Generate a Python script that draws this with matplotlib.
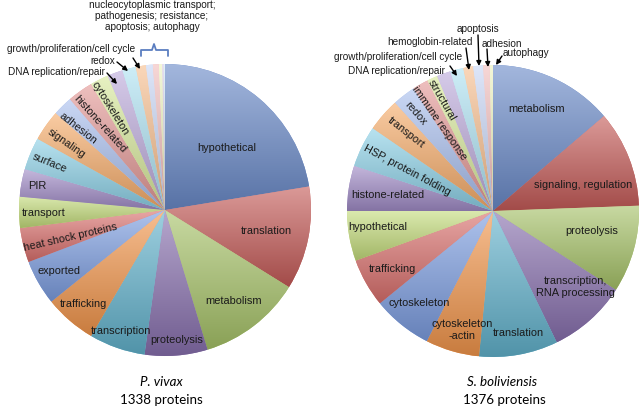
import numpy as np
import matplotlib.pyplot as plt
from matplotlib.colors import to_rgb
from matplotlib.path import Path
from matplotlib.patches import PathPatch

W, H = 644, 412

# P. vivax, 1338 proteins
vivax_labels = ['hypothetical', 'translation', 'metabolism', 'proteolysis', 'transcription',
                'trafficking', 'exported', 'heat shock proteins', 'transport', 'PIR',
                'surface', 'signaling', 'adhesion', 'histone-related', 'cytoskeleton',
                'DNA replication/repair', 'redox', 'growth/proliferation/cell cycle',
                'nucleocytoplasmic transport', 'pathogenesis', 'resistance',
                'apoptosis', 'autophagy']
vivax_counts = [300, 153, 153, 93, 83, 77, 67, 51, 46, 41, 48, 46, 29, 38, 27,
                23, 20, 15, 10, 9, 5, 3, 1]

# S. boliviensis, 1376 proteins
boli_labels = ['metabolism', 'signaling, regulation', 'proteolysis',
               'transcription,\nRNA processing', 'translation', 'cytoskeleton\n-actin',
               'cytoskeleton', 'trafficking', 'hypothetical', 'histone-related',
               'HSP, protein folding', 'transport', 'redox', 'immune response',
               'structural', 'DNA replication/repair', 'growth/proliferation/cell cycle',
               'hemoglobin-related', 'apoptosis', 'adhesion', 'autophagy']
boli_counts = [189, 147, 133, 120, 120, 82, 91, 74, 76, 69, 63, 51, 35, 24, 16,
               21, 20, 15, 15, 10, 5]

# Excel-like palette, cycling blue/red/green/purple/aqua/orange, getting lighter
palette = ['#6A8AC8', '#C45B58', '#A6C268', '#8870AE', '#62B2CC', '#F2964C',
           '#7C9DE0', '#D9706D', '#C3DB7B', '#A08BC6', '#8CD0E6', '#F6AC6A',
           '#A9BFEE', '#E39896', '#D8E99C', '#BCAADB', '#AEE2F2', '#F7BE8E',
           '#C8D6F5', '#F2BEBD', '#EDF3BF', '#D5CBEA', '#CDEEF7']

# text inside the slices: (x, y, rotation) in pixels
vivax_inside = {
    'hypothetical': (227, 148, 0), 'translation': (266, 231, 0),
    'metabolism': (234, 301, 0), 'proteolysis': (177, 340, 0),
    'transcription': (121, 331, 0), 'trafficking': (83, 304, 0),
    'exported': (59, 271, 0), 'heat shock proteins': (70, 237, 13),
    'transport': (44, 213, 0), 'PIR': (37, 186, 0), 'surface': (50, 163, -22),
    'signaling': (66, 143, -35), 'adhesion': (78, 128, -38),
    'histone-related': (100, 124, -48), 'cytoskeleton': (110, 108, -58),
}
boli_inside = {
    'metabolism': (537, 109, 0), 'signaling, regulation': (583, 185, 0),
    'proteolysis': (592, 231, 0), 'transcription,\nRNA processing': (575, 287, 0),
    'translation': (518, 333, 0), 'cytoskeleton\n-actin': (462, 330, 0),
    'cytoskeleton': (419, 303, 0), 'trafficking': (392, 269, 0),
    'hypothetical': (378, 227, 0), 'histone-related': (388, 195, 0),
    'HSP, protein folding': (407, 170, -28), 'transport': (406, 133, -38),
    'redox': (416, 113, -49), 'immune response': (439, 123, -55),
    'structural': (442, 100, -60),
}


def lighten(c, f):
    c = np.array(to_rgb(c))
    return c + (1 - c) * f


def darken(c, f):
    return np.array(to_rgb(c)) * (1 - f)


def draw_pie(ax, counts, center, radius):
    cx, cy = center
    wedges, _ = ax.pie(counts, colors=palette[:len(counts)], startangle=90,
                       counterclock=False, center=(cx, H - cy), radius=radius,
                       wedgeprops=dict(linewidth=0))
    # vertical gradient inside each slice, light on top, darker at the bottom
    for w, c in zip(wedges, palette):
        bb = w.get_path().get_extents()
        grad = np.linspace(0, 1, 64)[:, None]
        top, bot = lighten(c, 0.38), darken(c, 0.17)
        img = (top[None, None, :] * (1 - grad[:, :, None]) +
               bot[None, None, :] * grad[:, :, None])
        im = ax.imshow(img, extent=(bb.x0, bb.x1, bb.y0, bb.y1), origin='upper',
                       aspect='auto', interpolation='bilinear', zorder=1.5)
        im.set_clip_path(w)
    return wedges


fig = plt.figure(figsize=(W / 100, H / 100), dpi=100)
ax = fig.add_axes([0, 0, 1, 1])

draw_pie(ax, vivax_counts, (165, 210), 146)
draw_pie(ax, boli_counts, (493, 211), 146)

font = 'Liberation Sans'
txt = '#1a1a1a'
for d in (vivax_inside, boli_inside):
    for lab, (x, y, r) in d.items():
        ax.text(x, H - y, lab, rotation=r, ha='center', va='center', fontsize=7.9,
                family=font, color=txt, rotation_mode='anchor', zorder=3,
                multialignment='center', linespacing=1.15)

# outside labels (small slices)
small = 7.2
ax.text(152, H - 16, 'nucleocytoplasmic transport;\npathogenesis; resistance;\napoptosis; autophagy',
        ha='center', va='center', fontsize=small, family=font, color=txt, linespacing=1.15)
ax.text(135, H - 49, 'growth/proliferation/cell cycle', ha='right', va='center',
        fontsize=small, family=font, color=txt)
ax.text(115, H - 61, 'redox', ha='right', va='center', fontsize=small, family=font, color=txt)
ax.text(105, H - 72, 'DNA replication/repair', ha='right', va='center',
        fontsize=small, family=font, color=txt)

ax.text(478, H - 29, 'apoptosis', ha='center', va='center', fontsize=small, family=font, color=txt)
ax.text(473, H - 42, 'hemoglobin-related', ha='right', va='center', fontsize=small, family=font, color=txt)
ax.text(482, H - 44, 'adhesion', ha='left', va='center', fontsize=small, family=font, color=txt)
ax.text(503, H - 53, 'autophagy', ha='left', va='center', fontsize=small, family=font, color=txt)
ax.text(462, H - 57, 'growth/proliferation/cell cycle', ha='right', va='center',
        fontsize=small, family=font, color=txt)
ax.text(445, H - 71, 'DNA replication/repair', ha='right', va='center',
        fontsize=small, family=font, color=txt)

arrows = [((107, 73), (117, 84)), ((117, 62), (128, 71)), ((133, 58), (140, 69)),
          ((450, 66), (457, 76)), ((466, 48), (469, 70)), ((478, 35), (479, 66)),
          ((487, 49), (488, 67)), ((502, 56), (496, 65))]
for (x0, y0), (x1, y1) in arrows:
    ax.annotate('', xy=(x1, H - y1), xytext=(x0, H - y0),
                arrowprops=dict(arrowstyle='-|>', color='black', lw=1.0,
                                mutation_scale=7, shrinkA=0, shrinkB=0), zorder=4)

# curly brace over the tiny P. vivax slices
brace = Path([(141, H - 56), (141, H - 50), (152, H - 50), (154, H - 44),
              (156, H - 50), (168, H - 50), (168, H - 56)])
ax.add_patch(PathPatch(brace, fill=False, edgecolor='#5B7EC0', lw=1.3,
                       joinstyle='round', capstyle='round'))

# captions
tfont = 'Lato'
ax.text(161, H - 382, 'P. vivax', ha='center', va='center', fontsize=9.6, style='italic',
        family=tfont, color='black')
ax.text(161, H - 400, '1338 proteins', ha='center', va='center', fontsize=9.6,
        family=tfont, color='black')
ax.text(502, H - 382, 'S. boliviensis', ha='center', va='center', fontsize=9.6, style='italic',
        family=tfont, color='black')
ax.text(504, H - 400, '1376 proteins', ha='center', va='center', fontsize=9.6,
        family=tfont, color='black')

ax.set_xlim(0, W)
ax.set_ylim(0, H)
ax.set_aspect('auto')
ax.axis('off')

fig.savefig('out.png', dpi=100)
